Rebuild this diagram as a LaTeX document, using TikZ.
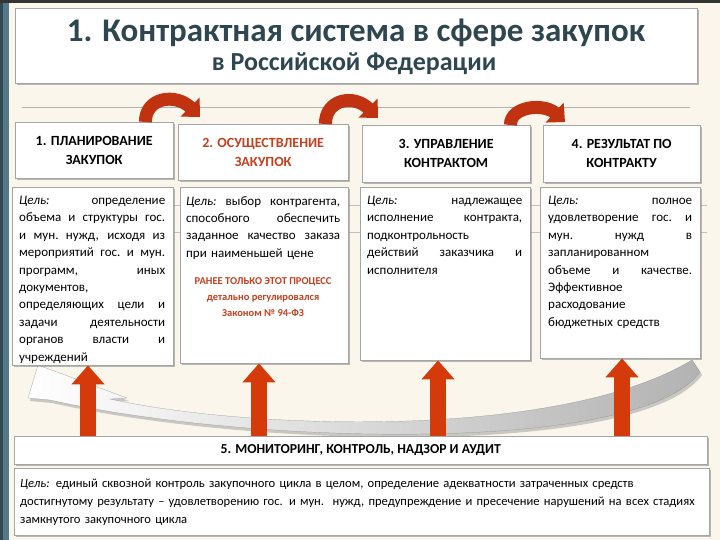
\documentclass[tikz,border=0pt]{standalone}
\usepackage{fontspec}
\setmainfont{Carlito}
\usepackage{tikz}
\usetikzlibrary{arrows.meta, shadows}

\definecolor{paper}{RGB}{250,246,236}
\definecolor{slate}{RGB}{45,70,80}
\definecolor{brick}{RGB}{192,50,16}
\definecolor{arrowred}{RGB}{212,58,10}
\definecolor{noteRed}{RGB}{196,64,30}
\definecolor{edge}{RGB}{165,165,165}
\definecolor{sidebar}{RGB}{84,122,138}

% one justified line of fixed width
\newcommand{\jline}[1]{\leavevmode\hbox to\linewidth{\spaceskip=.25em plus 1fil\xspaceskip=.25em plus 1fil\relax #1}\\}

\begin{document}
\begin{tikzpicture}[
    x=1pt, y=-1pt, % pixel grid, y grows downwards
    card/.style={draw=edge, fill=white, inner sep=0pt,
                 drop shadow={shadow xshift=2pt, shadow yshift=-2pt, fill=black!45, opacity=0.6}},
    hdr/.style={card, anchor=north west, align=center, font=\fontsize{14}{19}\selectfont\bfseries},
    goal/.style={anchor=north west, inner sep=0pt, align=left, font=\fontsize{13}{17.4}\selectfont},
    note/.style={align=center, text=noteRed, font=\fontsize{10.5}{16}\selectfont\bfseries},
    hump/.style={draw=brick, line width=13pt, -{Triangle[width=26pt,length=14pt]}}, % red curved arrows on top
    uparrow/.style={draw=arrowred, line width=16pt, -{Triangle[width=32pt,length=19pt]}} % red arrows from the bottom
    ]
  \useasboundingbox (0,0) rectangle (720,540);
  \fill[paper] (0,0) rectangle (720,540);
  \fill[sidebar] (0,0) rectangle (9,540);
  \fill[sidebar!60!black] (0,0) rectangle (3,540);
  \fill[black!80] (0,0) rectangle (720,3);

  % title
  \node[card, anchor=north west, minimum width=682pt, minimum height=75pt] (title) at (15,8) {};
  \node[anchor=base, text=slate, font=\fontsize{33}{36}\selectfont\bfseries] (title-a) at (356,42)
      {1. Контрактная система в сфере закупок};
  \node[anchor=base, text=slate, font=\fontsize{26}{28}\selectfont\bfseries] (title-b) at (354,71)
      {в Российской Федерации};
  \draw[black!30] (22,107) -- (690,107);

  \draw[edge!70] (170,205) -- (707,205) (170,232) -- (707,232);

  % grey return swoosh
  \path[drop shadow={shadow xshift=2pt, shadow yshift=-3pt, fill=black!40, opacity=0.5},
        draw=black!45, left color=white, right color=black!30, very thin]
      (28,398) -- (38,365) -- (127,398) -- (110,399)
      .. controls (250,430) and (560,440) .. (692,360) -- (700,372)
      .. controls (640,455) and (250,445) .. (50,400) -- cycle;

  % stages
  \node[hdr, minimum width=158pt, minimum height=56pt] (hdr1) at (15,122) {1. ПЛАНИРОВАНИЕ\\ЗАКУПОК};
  \node[hdr, minimum width=170pt, minimum height=56pt, text=noteRed] (hdr2) at (178,124) {2. ОСУЩЕСТВЛЕНИЕ\\ЗАКУПОК};
  \node[hdr, minimum width=168pt, minimum height=57pt] (hdr3) at (362,125) {3. УПРАВЛЕНИЕ\\КОНТРАКТОМ};
  \node[hdr, minimum width=157pt, minimum height=57pt] (hdr4) at (543,125) {4. РЕЗУЛЬТАТ ПО\\КОНТРАКТУ};

  \node[card, anchor=north west, minimum width=161pt, minimum height=178pt] (goal1) at (12,187) {};
  \node[card, anchor=north west, minimum width=168pt, minimum height=176pt] (goal2) at (180,187) {};
  \node[card, anchor=north west, minimum width=170pt, minimum height=173pt] (goal3) at (360,187) {};
  \node[card, anchor=north west, minimum width=160pt, minimum height=171pt] (goal4) at (540,187) {};

  \node[goal, text width=146pt] (goal1-t) at ([xshift=7pt,yshift=-9pt]goal1.north west) {%
    \jline{\textit{Цель:} определение}
    \jline{объема и структуры гос.}
    \jline{и мун. нужд, исходя из}
    \jline{мероприятий гос. и мун.}
    \jline{программ, иных}
    документов,\\
    \jline{определяющих цели и}
    \jline{задачи деятельности}
    \jline{органов власти и}
    учреждений};
  \node[goal, text width=154pt] (goal2-t) at ([xshift=6pt,yshift=-9pt]goal2.north west) {%
    \jline{\textit{Цель:} выбор контрагента,}
    \jline{способного обеспечить}
    \jline{заданное качество заказа}
    при наименьшей цене};
  \node[note] (note2) at (263,297) {РАНЕЕ ТОЛЬКО ЭТОТ ПРОЦЕСС\\детально регулировался\\Законом № 94-ФЗ};
  \node[goal, text width=155pt] (goal3-t) at ([xshift=7pt,yshift=-9pt]goal3.north west) {%
    \jline{\textit{Цель:} надлежащее}
    \jline{исполнение контракта,}
    подконтрольность\\
    \jline{действий заказчика и}
    исполнителя};
  \node[goal, text width=144pt] (goal4-t) at ([xshift=8pt,yshift=-9pt]goal4.north west) {%
    \jline{\textit{Цель:} полное}
    \jline{удовлетворение гос. и}
    \jline{мун. нужд в}
    запланированном\\
    \jline{объеме и качестве.}
    Эффективное\\
    расходование\\
    бюджетных средств};

  % stage to stage
  \draw[hump] ([xshift=-28pt]hdr1.north east) .. controls +(0,-25) and +(-24,-24) .. ([xshift=22pt,yshift=7pt]hdr2.north west);
  \draw[hump] ([xshift=-23pt]hdr2.north east) .. controls +(0,-25) and +(-24,-24) .. ([xshift=16pt,yshift=7pt]hdr3.north west);
  \draw[hump] ([xshift=-20pt]hdr3.north east) .. controls +(0,-19) and +(-21,-19) .. ([xshift=22pt,yshift=3pt]hdr4.north west);

  % monitoring
  \coordinate (a1) at (88,437);
  \coordinate (a2) at (259,437);
  \coordinate (a3) at (438,437);
  \coordinate (a4) at (622,437);
  \draw[uparrow] (a1) -- (a1 |- goal1.south);
  \draw[uparrow] (a2) -- (a2 |- goal2.south);
  \draw[uparrow] (a3) -- (a3 |- goal3.south);
  \draw[uparrow] (a4) -- (a4 |- goal4.south);

  \node[hdr, minimum width=693pt, minimum height=28pt, font=\fontsize{13.7}{16}\selectfont\bfseries] (mon) at (14,436)
      {5. МОНИТОРИНГ, КОНТРОЛЬ, НАДЗОР И АУДИТ};
  \node[card, anchor=north west, minimum width=695pt, minimum height=67pt] (mon-goal) at (14,468) {};
  \node[goal, text width=700pt, font=\fontsize{12.6}{18}\selectfont] (mon-goal-t) at ([xshift=6pt,yshift=-11pt]mon-goal.north west) {%
    \textit{Цель:} единый сквозной контроль закупочного цикла в целом, определение адекватности затраченных средств\\
    достигнутому результату – удовлетворению гос. и мун.\ \ нужд, предупреждение и пресечение нарушений на всех стадиях\\
    замкнутого закупочного цикла};
\end{tikzpicture}
\end{document}
